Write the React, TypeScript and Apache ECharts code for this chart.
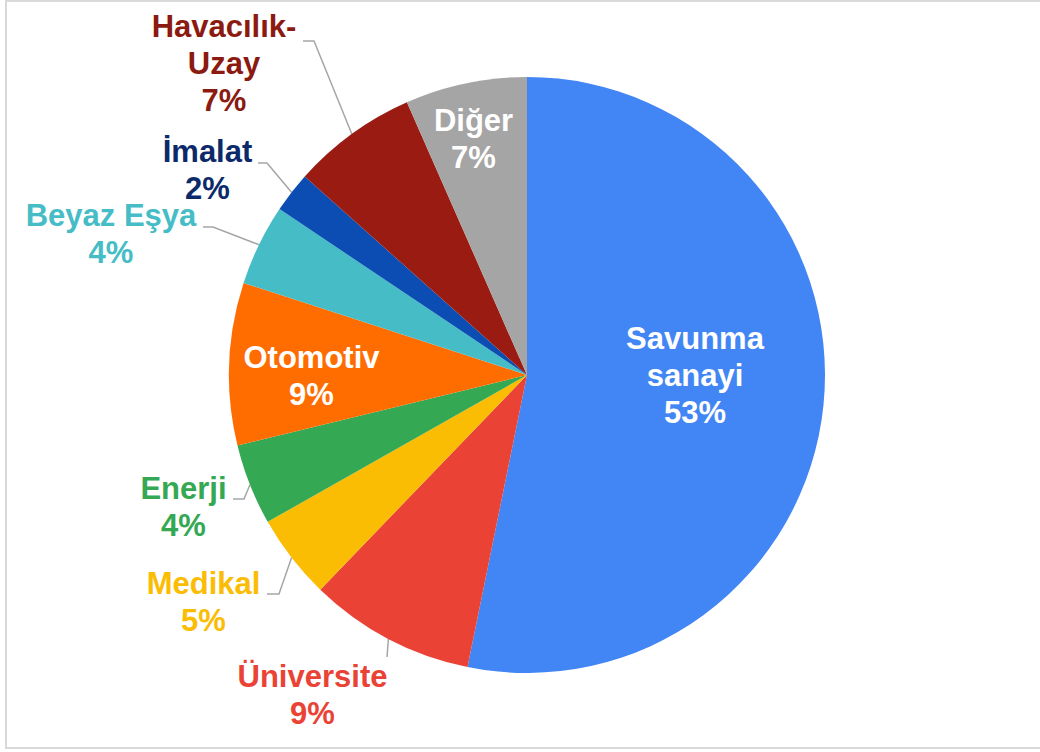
import React, { useEffect, useRef } from "react";
import * as echarts from "echarts";

const categories = ["Savunma sanayi", "Üniversite", "Medikal", "Enerji", "Otomotiv", "Beyaz Eşya", "İmalat", "Havacılık-Uzay", "Diğer"];
const values = [53.2, 9.0, 4.6, 4.4, 8.8, 4.4, 2.2, 6.8, 6.6];
const labelNames = ["Savunma\nsanayi", "Üniversite", "Medikal", "Enerji", "Otomotiv", "Beyaz Eşya", "İmalat", "Havacılık-\nUzay", "Diğer"];
const sliceColors = ["#4285F4", "#EA4335", "#FBBC04", "#34A853", "#FF6D01", "#46BDC6", "#0B4DB3", "#9A1B12", "#A5A5A5"];
const labelColors = ["#FFFFFF", "#EA4335", "#FBBC04", "#34A853", "#FFFFFF", "#46BDC6", "#0C2A6A", "#8B1A10", "#FFFFFF"];
const insideLabel = [true, false, false, false, true, false, false, false, true];

// label block centres and leader elbows (layout only)
const labelCenters = [[695, 375], [312.5, 695], [203.5, 602], [183.5, 506.5], [311.5, 376], [111, 234], [207.5, 169.5], [224, 63], [473.5, 139]];
const leaderElbows: (number[] | null)[] = [null, [387, 657], [279, 594, 267], [244, 499, 233], null, [213, 227, 203], [267, 163, 258], [314, 41, 303], null];

export default function App() {
  const ref = useRef<HTMLDivElement>(null);
  useEffect(() => {
    document.body.style.margin = "0";
    const chart = echarts.init(ref.current!, null, { renderer: "svg" });
    const cx = 527, cy = 375, R = 298;
    chart.setOption({
      animation: false,
      backgroundColor: "#ffffff",
      graphic: [
        {
          type: "rect",
          shape: { x: 6, y: 1, width: 1040, height: 747 },
          style: { fill: "none", stroke: "#d9d9d9", lineWidth: 2 },
          silent: true,
        },
      ],
      series: [
        {
          type: "pie",
          center: [cx, cy],
          radius: R,
          startAngle: 90,
          clockwise: true,
          percentPrecision: 0,
          silent: true,
          emphasis: { disabled: true },
          labelLine: { show: true, lineStyle: { color: "#a6a6a6", width: 1.5 } },
          label: {
            fontFamily: "Liberation Sans, Arial, sans-serif",
            fontWeight: "bold",
            fontSize: 31,
            lineHeight: 37,
            align: "center",
            formatter: (p: any) => labelNames[p.dataIndex] + "\n" + p.percent + "%",
          },
          labelLayout: (params: any) => {
            const i = params.dataIndex;
            const c = labelCenters[i];
            const res: any = { x: c[0], y: c[1], align: "center", verticalAlign: "middle" };
            const el = leaderElbows[i];
            if (el) {
              // edge point at slice mid-angle
              let start = params.labelLinePoints && params.labelLinePoints[0];
              if (!start) {
                let before = 0;
                const total = values.reduce((a, b) => a + b, 0);
                for (let k = 0; k < i; k++) before += values[k];
                const mid = ((before + values[i] / 2) / total) * Math.PI * 2;
                start = [cx + R * Math.sin(mid), cy - R * Math.cos(mid)];
              }
              const pts: number[][] = [start, [el[0], el[1]]];
              if (el.length > 2) pts.push([el[2], el[1]]);
              res.labelLinePoints = pts;
            }
            return res;
          },
          data: categories.map((name, i) => ({
            name,
            value: values[i],
            itemStyle: { color: sliceColors[i], borderWidth: 0 },
            label: { position: insideLabel[i] ? "inside" : "outside", color: labelColors[i] },
            labelLine: { show: !insideLabel[i] },
          })),
        },
      ],
    });
    return () => chart.dispose();
  }, []);
  return <div ref={ref} style={{ position: "absolute", left: 0, top: 0, width: 1040, height: 752 }} />;
}
